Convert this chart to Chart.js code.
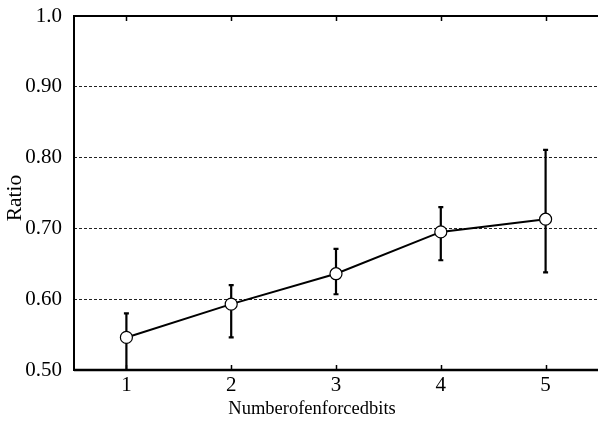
<!DOCTYPE html>
<html>
<head>
<meta charset="utf-8">
<script src="https://cdn.jsdelivr.net/npm/chart.js@4/dist/chart.umd.min.js"></script>
<style>
html,body{margin:0;padding:0;background:#fff;}
#wrap{width:598px;height:422px;position:relative;}
</style>
</head>
<body>
<div id="wrap"><canvas id="c" width="598" height="422"></canvas></div>
<script>
const categories = [1, 2, 3, 4, 5];
const ratioMean = [0.546, 0.593, 0.636, 0.695, 0.713];
const ratioUpper = [0.580, 0.620, 0.671, 0.730, 0.811];
const ratioLower = [0.500, 0.546, 0.607, 0.655, 0.638];
const yTicks = [0.5, 0.6, 0.7, 0.8, 0.9, 1.0];
const xTitle = 'Numberofenforcedbits';
const yTitle = 'Ratio';

const FONT = "'Liberation Serif', 'Times New Roman', serif";

const framePlugin = {
  id: 'framePlugin',
  beforeDatasetsDraw(chart) {
    const ctx = chart.ctx;
    const xs = chart.scales.x, ys = chart.scales.y;
    ctx.save();
    ctx.strokeStyle = '#000';
    ctx.lineWidth = 2.2;
    ctx.lineCap = 'butt';
    categories.forEach((c, i) => {
      const px = xs.getPixelForValue(c);
      const pt = ys.getPixelForValue(ratioUpper[i]);
      const pb = ys.getPixelForValue(ratioLower[i]);
      ctx.beginPath();
      ctx.moveTo(px, pt); ctx.lineTo(px, pb);
      ctx.moveTo(px - 2.5, pt); ctx.lineTo(px + 2.5, pt);
      ctx.moveTo(px - 2.5, pb); ctx.lineTo(px + 2.5, pb);
      ctx.stroke();
    });
    ctx.restore();
  },
  afterDraw(chart) {
    const ctx = chart.ctx;
    const a = chart.chartArea;
    const xs = chart.scales.x;
    ctx.save();
    ctx.strokeStyle = '#000';
    ctx.lineWidth = 2;
    ctx.beginPath();
    ctx.moveTo(a.left, a.top); ctx.lineTo(a.right, a.top);
    ctx.moveTo(a.left, a.top - 1); ctx.lineTo(a.left, a.bottom + 1);
    ctx.stroke();
    ctx.lineWidth = 2.5;
    ctx.beginPath();
    ctx.moveTo(a.left, a.bottom); ctx.lineTo(a.right, a.bottom);
    ctx.stroke();
    ctx.lineWidth = 1.5;
    ctx.beginPath();
    categories.forEach(c => {
      const px = Math.round(xs.getPixelForValue(c)) + 0.5;
      ctx.moveTo(px, a.bottom); ctx.lineTo(px, a.bottom - 5);
      ctx.moveTo(px, a.top); ctx.lineTo(px, a.top + 5);
    });
    ctx.stroke();
    ctx.fillStyle = '#000';
    ctx.font = '18.5px ' + FONT;
    ctx.textAlign = 'center';
    ctx.textBaseline = 'middle';
    ctx.fillText(xTitle, 312, 409);
    ctx.font = '21.5px ' + FONT;
    ctx.translate(15, 198);
    ctx.rotate(-Math.PI / 2);
    ctx.fillText(yTitle, 0, 0);
    ctx.restore();
  }
};

new Chart(document.getElementById('c'), {
  type: 'line',
  plugins: [framePlugin],
  data: {
    datasets: [{
      data: categories.map((c, i) => ({x: c, y: ratioMean[i]})),
      borderColor: '#000',
      borderWidth: 2,
      backgroundColor: '#fff',
      pointBackgroundColor: '#fff',
      pointBorderColor: '#000',
      pointBorderWidth: 1.2,
      pointRadius: 6,
      tension: 0,
      fill: false
    }]
  },
  options: {
    responsive: false,
    animation: false,
    events: [],
    layout: {autoPadding: false, padding: {top: 16, right: 0, left: 0, bottom: 0}},
    plugins: {legend: {display: false}, tooltip: {enabled: false}},
    scales: {
      x: {
        type: 'linear',
        min: 0.5,
        max: 5.5,
        afterBuildTicks(scale) { scale.ticks = categories.map(v => ({value: v})); },
        afterFit(scale) { scale.height = 52; scale.paddingLeft = 0; scale.paddingRight = 0; },
        grid: {display: false, drawTicks: false},
        border: {display: false},
        ticks: {
          color: '#000',
          font: {family: FONT, size: 21},
          padding: 3,
          maxRotation: 0,
          callback: v => String(v)
        }
      },
      y: {
        type: 'linear',
        min: 0.5,
        max: 1.0,
        afterBuildTicks(scale) { scale.ticks = yTicks.map(v => ({value: v})); },
        afterFit(scale) { scale.width = 74; scale.paddingTop = 0; scale.paddingBottom = 0; },
        grid: {
          color: (ctx) => (ctx.tick && (ctx.tick.value <= 0.5 || ctx.tick.value >= 1.0)) ? 'rgba(0,0,0,0)' : '#222',
          lineWidth: 1,
          drawTicks: false
        },
        border: {display: false, dash: [3, 2]},
        ticks: {
          color: '#000',
          font: {family: FONT, size: 21},
          padding: 12,
          callback: v => (v === 1 ? '1.0' : v.toFixed(2))
        }
      }
    }
  }
});
</script>
</body>
</html>
